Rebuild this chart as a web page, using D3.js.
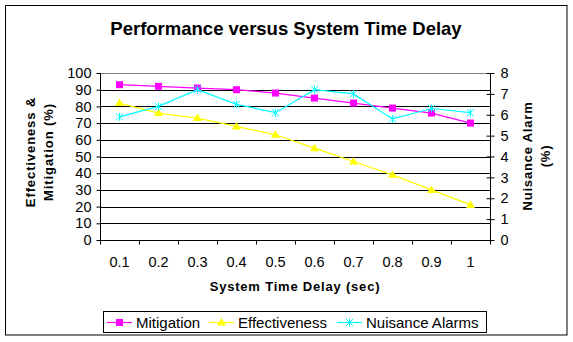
<!DOCTYPE html>
<html><head><meta charset="utf-8">
<script src="https://cdn.jsdelivr.net/npm/d3@7"></script>
<style>
body{margin:0;background:#fff;}
svg{display:block;font-family:Arial,"Liberation Sans",sans-serif;}
</style></head>
<body><svg id="c" width="573" height="342"></svg>
<script>
const categories = ["0.1","0.2","0.3","0.4","0.5","0.6","0.7","0.8","0.9","1"];
const mitigation = [93,92,91,90,88,85,82,79,76,70];
const effectiveness = [82,76,73,68,63,55,47,39,30,21];
const nuisance = [5.9,6.4,7.2,6.5,6.1,7.2,7.0,5.8,6.3,6.1];
const leftTicks = [0,10,20,30,40,50,60,70,80,90,100];
const rightTicks = [0,1,2,3,4,5,6,7,8];

const svg = d3.select("#c");
const L = 100, R = 490, T = 73, B = 240;
const FF = "Arial, 'Liberation Sans', sans-serif";

svg.append("rect").attr("x",5.5).attr("y",5.5).attr("width",561.5).attr("height",329.5)
  .attr("fill","#fff").attr("stroke","#000").attr("stroke-width",1);

svg.append("text").attr("x",286).attr("y",35).attr("text-anchor","middle")
  .attr("font-size",18.5).attr("font-weight","bold").text("Performance versus System Time Delay");

const x = d3.scaleBand().domain(categories).range([L,R]);
const yL = d3.scaleLinear().domain([0,100]).range([B,T]);
const yR = d3.scaleLinear().domain([0,8]).range([B,T]);

// gridlines
svg.append("g").selectAll("line").data(leftTicks.slice(1)).join("line")
  .attr("x1",L).attr("x2",R)
  .attr("y1",d=>Math.round(yL(d))+0.5).attr("y2",d=>Math.round(yL(d))+0.5)
  .attr("stroke",d=>d===100?"#808080":"#000").attr("stroke-width",1);

// left axis
const gl = svg.append("g").attr("transform",`translate(${L+0.5},0)`)
  .call(d3.axisLeft(yL).tickValues(leftTicks).tickSize(4).tickPadding(5));
gl.selectAll("text").attr("font-size",14.5).attr("font-family",FF);
gl.selectAll("line,path").attr("stroke","#000");
gl.select(".domain").attr("d",`M0,${T}V${B}`);

// right axis
const gr = svg.append("g").attr("transform",`translate(${R+0.5},0)`)
  .call(d3.axisRight(yR).tickValues(rightTicks).tickSize(4).tickPadding(6));
gr.selectAll(".tick line").attr("x1",-4);
gr.selectAll("text").attr("font-size",14.5).attr("font-family",FF);
gr.selectAll("line,path").attr("stroke","#000");
gr.select(".domain").attr("d",`M0,${T}V${B}`);

// bottom axis
const gb = svg.append("g").attr("transform",`translate(0,${B+0.5})`)
  .call(d3.axisBottom(x).tickSize(0).tickPadding(16));
gb.selectAll("text").attr("font-size",14.5).attr("font-family",FF);
gb.select(".domain").attr("d",`M${L},0H${R}`).attr("stroke","#000");
const bounds = categories.map(c=>x(c)).concat([R]);
gb.append("g").selectAll("line").data(bounds).join("line")
  .attr("x1",d=>Math.round(d)+0.5).attr("x2",d=>Math.round(d)+0.5).attr("y1",0).attr("y2",4).attr("stroke","#000");

// axis titles
svg.append("text").attr("x",295).attr("y",291).attr("text-anchor","middle")
  .attr("font-size",13).attr("font-weight","bold").attr("letter-spacing",0.8).text("System Time Delay (sec)");
const lt = svg.append("text").attr("transform","translate(35,152) rotate(-90)").attr("text-anchor","middle")
  .attr("font-size",13).attr("font-weight","bold").attr("letter-spacing",0.9);
lt.append("tspan").attr("x",0).attr("dy",0).text("Effectiveness &");
lt.append("tspan").attr("x",0).attr("dy",18).text("Mitigation (%)");
const rt = svg.append("text").attr("transform","translate(532,156) rotate(-90)").attr("text-anchor","middle")
  .attr("font-size",13).attr("font-weight","bold").attr("letter-spacing",0.8);
rt.append("tspan").attr("x",0).attr("dy",0).text("Nuisance Alarm");
rt.append("tspan").attr("x",0).attr("dy",18).text("(%)");

const cx = c => x(c) + x.bandwidth()/2;

function drawMarker(g, type, color){
  if(type==="square"){
    g.append("rect").attr("x",-3.5).attr("y",-3.5).attr("width",7).attr("height",7).attr("fill",color);
  } else if(type==="triangle"){
    g.append("path").attr("d","M0,-4.5L4.5,3L-4.5,3Z").attr("fill",color);
  } else {
    g.append("path").attr("d","M-3.5,-3.5L3.5,3.5M-3.5,3.5L3.5,-3.5M0,-4L0,4").attr("stroke",color).attr("stroke-width",1).attr("fill","none");
  }
}

const series = [
  {name:"Mitigation", data:mitigation, y:yL, color:"#ff00ff", marker:"square"},
  {name:"Effectiveness", data:effectiveness, y:yL, color:"#ffff00", marker:"triangle"},
  {name:"Nuisance Alarms", data:nuisance, y:yR, color:"#00ffff", marker:"star"}
];

series.forEach(s=>{
  const line = d3.line().x((d,i)=>cx(categories[i])).y(d=>s.y(d));
  svg.append("path").attr("d",line(s.data)).attr("fill","none").attr("stroke",s.color).attr("stroke-width",1.2);
  s.data.forEach((d,i)=>{
    const g = svg.append("g").attr("transform",`translate(${cx(categories[i])},${s.y(d)})`);
    drawMarker(g, s.marker, s.color);
  });
});

// legend
svg.append("rect").attr("x",103.5).attr("y",311.5).attr("width",383).attr("height",21)
  .attr("fill","#fff").attr("stroke","#000").attr("stroke-width",1);
const legX = [107,209,337];
series.forEach((s,i)=>{
  const g = svg.append("g").attr("transform",`translate(${legX[i]},322.5)`);
  g.append("line").attr("x1",0).attr("x2",25).attr("y1",0).attr("y2",0).attr("stroke",s.color).attr("stroke-width",1.2);
  const m = g.append("g").attr("transform","translate(12.5,0)");
  drawMarker(m, s.marker, s.color);
  g.append("text").attr("x",29).attr("y",5.5).attr("font-size",15).text(s.name);
});
</script></body></html>
